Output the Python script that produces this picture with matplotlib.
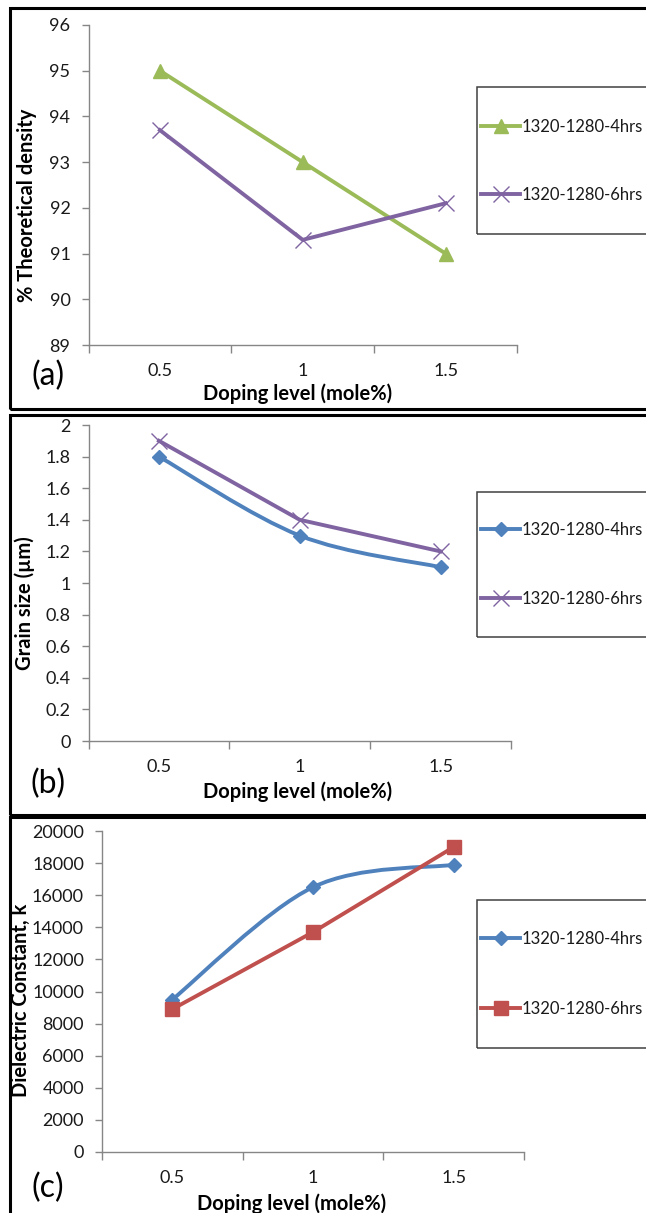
import matplotlib
matplotlib.use("Agg")
import matplotlib.pyplot as plt
from matplotlib.path import Path
from matplotlib.patches import PathPatch, Rectangle
from matplotlib.lines import Line2D

# ---- data ----
doping_levels = ["0.5", "1", "1.5"]
series_labels = ["1320-1280-4hrs", "1320-1280-6hrs"]

density_4hrs = [95.0, 93.0, 91.0]
density_6hrs = [93.7, 91.3, 92.1]
density_ticks = [89, 90, 91, 92, 93, 94, 95, 96]

grain_4hrs = [1.8, 1.3, 1.1]
grain_6hrs = [1.9, 1.4, 1.2]
grain_ticks = [0, 0.2, 0.4, 0.6, 0.8, 1.0, 1.2, 1.4, 1.6, 1.8, 2.0]
grain_tick_labels = ["0", "0.2", "0.4", "0.6", "0.8", "1", "1.2", "1.4", "1.6", "1.8", "2"]

dielectric_4hrs = [9500, 16500, 17900]
dielectric_6hrs = [8900, 13700, 19000]
dielectric_ticks = [0, 2000, 4000, 6000, 8000, 10000, 12000, 14000, 16000, 18000, 20000]

# ---- styling ----
GREEN = "#9BBB59"
PURPLE = "#8064A2"
BLUE = "#4F81BD"
RED = "#C0504D"
AXIS_GRAY = "#868686"
TEXT = "#1a1a1a"
FONT = "Lato"
TICK_SIZE = 13
LEG_SIZE = 12
LABEL_SIZE = 14.5

W, H = 646, 1213
fig = plt.figure(figsize=(W / 100, H / 100), dpi=100)
fig.patch.set_facecolor("white")


def fx(px):
    return px / W


def fy(py):
    return 1 - py / H


def smooth_path(xs, ys):
    """Cubic Bezier path through the points (Excel-style smoothed line)."""
    pts = list(zip(xs, ys))
    n = len(pts)
    verts = [pts[0]]
    codes = [Path.MOVETO]
    for i in range(n - 1):
        p_prev = pts[i - 1] if i > 0 else pts[i]
        p0 = pts[i]
        p1 = pts[i + 1]
        p_next = pts[i + 2] if i + 2 < n else pts[i + 1]
        c1 = (p0[0] + (p1[0] - p_prev[0]) / 6, p0[1] + (p1[1] - p_prev[1]) / 6)
        c2 = (p1[0] - (p_next[0] - p0[0]) / 6, p1[1] - (p_next[1] - p0[1]) / 6)
        verts += [c1, c2, p1]
        codes += [Path.CURVE4] * 3
    return Path(verts, codes)


def make_panel(box, ticks, tick_labels, ylim):
    left, right, top, bottom = box
    ax = fig.add_axes([fx(left), fy(bottom), fx(right - left), (bottom - top) / H])
    ax.set_xlim(-0.5, len(doping_levels) - 0.5)
    ax.set_ylim(*ylim)
    for s in ("top", "right"):
        ax.spines[s].set_visible(False)
    for s in ("left", "bottom"):
        ax.spines[s].set_color(AXIS_GRAY)
        ax.spines[s].set_linewidth(1.0)
    ax.set_yticks(ticks)
    ax.set_yticklabels(tick_labels)
    ax.tick_params(axis="y", direction="out", length=5, width=1.0, color=AXIS_GRAY,
                   pad=8, labelsize=TICK_SIZE, labelcolor=TEXT)
    ax.set_xticks([-0.5 + i for i in range(len(doping_levels) + 1)])
    ax.set_xticklabels([])
    ax.tick_params(axis="x", which="major", direction="out", length=6, width=1.0,
                   color=AXIS_GRAY)
    ax.set_xticks(range(len(doping_levels)), minor=True)
    ax.set_xticklabels(doping_levels, minor=True)
    ax.tick_params(axis="x", which="minor", length=0, pad=13, labelsize=TICK_SIZE,
                   labelcolor=TEXT)
    for lab in ax.get_yticklabels() + ax.get_xticklabels(minor=True):
        lab.set_fontfamily(FONT)
    ax.set_facecolor("none")
    return ax


def panel_frame(top, bottom):
    fig.patches.append(Rectangle((fx(10), fy(bottom)), fx(700), (bottom - top) / H,
                                 transform=fig.transFigure, fill=False,
                                 edgecolor="black", linewidth=2.2, zorder=0))


def legend_box(ax, top, bottom, handles, entry_ys):
    fig.patches.append(Rectangle((fx(477), fy(bottom)), fx(300), (bottom - top) / H,
                                 transform=fig.transFigure, fill=False,
                                 edgecolor="#404040", linewidth=1.1, zorder=5))
    gap = entry_ys[1] - entry_ys[0]
    em = LEG_SIZE * 100 / 72
    leg = ax.legend(handles, series_labels, loc="center left",
                    bbox_to_anchor=(fx(481), fy((entry_ys[0] + entry_ys[1]) / 2)),
                    bbox_transform=fig.transFigure, frameon=False,
                    handlelength=39 / em, handletextpad=2 / em, borderpad=0,
                    borderaxespad=0, labelspacing=(gap - 1.2 * em) / em,
                    prop={"family": FONT, "size": LEG_SIZE})
    for t in leg.get_texts():
        t.set_color(TEXT)
    return leg


def axis_texts(ylabel, ylabel_xy, xlabel_xy, tag, tag_xy):
    fig.text(fx(ylabel_xy[0]), fy(ylabel_xy[1]), ylabel, rotation=90, ha="center",
             va="center", fontsize=LABEL_SIZE, fontweight="bold", family=FONT,
             color="black")
    fig.text(fx(xlabel_xy[0]), fy(xlabel_xy[1]), "Doping level (mole%)", ha="center",
             va="center", fontsize=LABEL_SIZE, fontweight="bold", family=FONT,
             color="black")
    fig.text(fx(tag_xy[0]), fy(tag_xy[1]), tag, ha="center", va="center",
             fontsize=23, family=FONT, color="black")


x = list(range(len(doping_levels)))

# ---- (a) theoretical density ----
panel_frame(8, 409)
ax_a = make_panel((88.5, 517, 25, 345), density_ticks,
                  [str(t) for t in density_ticks], (89, 96))
ax_a.plot(x, density_4hrs, color=GREEN, lw=2.8, marker="^", ms=10.5, mec=GREEN,
          mfc=GREEN, clip_on=False, zorder=3)
ax_a.plot(x, density_6hrs, color=PURPLE, lw=2.8, marker="x", ms=11, mew=1.0,
          mec=PURPLE, clip_on=False, zorder=3)
h_a = [Line2D([], [], color=GREEN, lw=2.8, marker="^", ms=10.5),
       Line2D([], [], color=PURPLE, lw=2.8, marker="x", ms=11, mew=1.0)]
legend_box(ax_a, 87, 234, h_a, (125, 197))
axis_texts("% Theoretical density", (27, 205), (298, 394), "(a)", (48, 376))

# ---- (b) grain size ----
panel_frame(415, 815)
ax_b = make_panel((88.5, 511, 425, 741), grain_ticks, grain_tick_labels, (0, 2))
ax_b.add_patch(PathPatch(smooth_path(x, grain_4hrs), facecolor="none",
                         edgecolor=BLUE, lw=2.8, capstyle="round", zorder=3))
ax_b.plot(x, grain_4hrs, linestyle="none", marker="D", ms=7.5, color=BLUE,
          clip_on=False, zorder=4)
ax_b.plot(x, grain_6hrs, color=PURPLE, lw=2.8, marker="x", ms=11, mew=1.0,
          mec=PURPLE, clip_on=False, zorder=3)
h_b = [Line2D([], [], color=BLUE, lw=2.8, marker="D", ms=7.5),
       Line2D([], [], color=PURPLE, lw=2.8, marker="x", ms=11, mew=1.0)]
legend_box(ax_b, 492, 637, h_b, (528, 601))
axis_texts("Grain size (\u00b5m)", (25, 603), (298, 792), "(b)", (48, 784))

# ---- (c) dielectric constant ----
panel_frame(817, 1260)
ax_c = make_panel((102, 524, 831, 1152), dielectric_ticks,
                  [str(t) for t in dielectric_ticks], (0, 20000))
ax_c.add_patch(PathPatch(smooth_path(x, dielectric_4hrs), facecolor="none",
                         edgecolor=BLUE, lw=2.8, capstyle="round", zorder=3))
ax_c.plot(x, dielectric_4hrs, linestyle="none", marker="D", ms=7.5, color=BLUE,
          clip_on=False, zorder=4)
ax_c.plot(x, dielectric_6hrs, color=RED, lw=2.8, marker="s", ms=9.5, mec=RED,
          mfc=RED, clip_on=False, zorder=5)
h_c = [Line2D([], [], color=BLUE, lw=2.8, marker="D", ms=7.5),
       Line2D([], [], color=RED, lw=2.8, marker="s", ms=9.5)]
legend_box(ax_c, 900, 1048, h_c, (937, 1011))
axis_texts("Dielectric Constant, k", (21, 1000), (292, 1204), "(c)", (48, 1188))

fig.savefig("out.png", dpi=100, facecolor="white")
